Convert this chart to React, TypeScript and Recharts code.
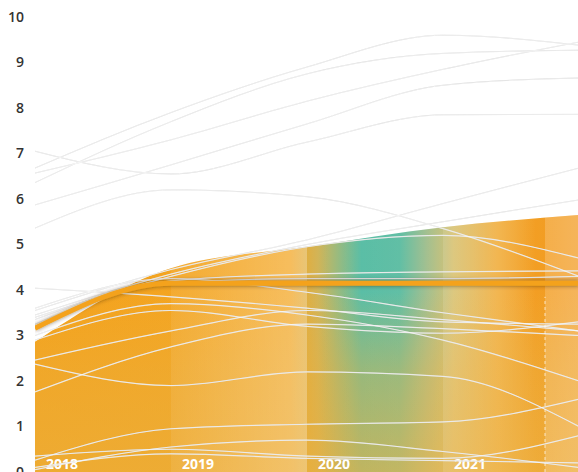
import { ComposedChart, Area, Line, XAxis, YAxis, ReferenceLine, ReferenceArea } from "recharts";

const years = [2018, 2019, 2020, 2021, 2022];
const yTicks = [0, 1, 2, 3, 4, 5, 6, 7, 8, 9, 10];
const yearLabels = [2018, 2019, 2020, 2021];

// filled band and the highlighted trend
const areaValues = [2.86, 4.48, 4.95, 5.38, 5.65];
const trendValues = [3.16, 4.15, 4.15, 4.15, 4.15];

// background spaghetti lines (values per year)
const s1 = [6.68, 7.9, 8.9, 9.6, 9.38];
const s2 = [6.36, 7.7, 8.75, 9.2, 9.27];
const s3 = [6.57, 7.3, 8.15, 8.85, 9.45];
const s4 = [5.87, 6.75, 7.65, 8.5, 8.66];
const s5 = [7.05, 6.55, 7.25, 7.85, 7.86];
const s6 = [5.36, 6.2, 6.05, 5.35, 4.3];
const s7 = [3.55, 4.45, 5.1, 5.9, 6.68];
const s8 = [3.45, 4.35, 5.0, 5.5, 5.98];
const s9 = [3.4, 4.3, 4.95, 5.2, 4.7];
const s10 = [4.04, 3.85, 3.6, 3.3, 3.25];
const s11 = [3.6, 4.25, 3.95, 3.5, 3.1];
const s12 = [3.35, 4.2, 4.35, 4.4, 4.42];
const s13 = [3.25, 4.15, 4.25, 4.25, 4.3];
const s14 = [2.46, 3.1, 3.55, 3.35, 3.1];
const s15 = [2.37, 1.9, 2.2, 2.1, 1.0];
const s16 = [1.76, 2.75, 3.25, 3.15, 3.0];
const s17 = [0.26, 0.95, 1.05, 1.1, 1.6];
const s18 = [0.1, 0.4, 0.3, 0.25, 0.2];
const s19 = [0.35, 0.5, 0.35, 0.3, 0.8];
const s20 = [2.9, 3.55, 3.2, 3.05, 3.3];
const s21 = [3.0, 3.7, 3.45, 2.9, 2.0];
const s22 = [0.05, 0.55, 0.7, 0.45, 0.1];

const series = [s1, s2, s3, s4, s5, s6, s7, s8, s9, s10, s11, s12, s13, s14, s15, s16, s17, s18, s19, s20, s21, s22];

const data = years.map((year, i) => {
  const row: Record<string, number> = { year, area: areaValues[i], trend: trendValues[i] };
  series.forEach((s, k) => {
    row["s" + k] = s[i];
  });
  return row;
});

const YearLabel = (props: any) => {
  const vb = props.viewBox || {};
  return (
    <text
      x={vb.x + 11}
      y={vb.y + vb.height - 3}
      fill="#fff"
      fontSize={14}
      fontWeight={700}
      fontFamily="'Open Sans', sans-serif"
    >
      {props.text}
    </text>
  );
};

export default function App() {
  return (
    <div style={{ position: "fixed", left: 0, top: 0, width: 578, height: 472, overflow: "hidden", background: "#fff" }}>
      <ComposedChart width={579} height={480} data={data} margin={{ top: 17, right: 0, bottom: 8, left: 0 }}>
        <defs>
          <linearGradient id="baseFill" x1="0" y1="0" x2="1" y2="0">
            <stop offset="0%" stopColor="#f4a21c" />
            <stop offset="47%" stopColor="#f3a726" />
            <stop offset="52%" stopColor="#d2b456" />
            <stop offset="56%" stopColor="#92ba80" />
            <stop offset="60%" stopColor="#55bca3" />
            <stop offset="67%" stopColor="#58bba0" />
            <stop offset="72%" stopColor="#9cbb88" />
            <stop offset="77%" stopColor="#d6bd66" />
            <stop offset="85%" stopColor="#f1ae3e" />
            <stop offset="92%" stopColor="#f29a1a" />
            <stop offset="100%" stopColor="#f29c24" />
          </linearGradient>
          <linearGradient id="depthFill" x1="0" y1="0" x2="0" y2="1">
            <stop offset="0%" stopColor="#ebaf3c" stopOpacity={0} />
            <stop offset="30%" stopColor="#ebaf3c" stopOpacity={0} />
            <stop offset="60%" stopColor="#ebaf3c" stopOpacity={0.42} />
            <stop offset="100%" stopColor="#ebaf3c" stopOpacity={0.7} />
          </linearGradient>
          <linearGradient id="bandFill" x1="0" y1="0" x2="1" y2="0">
            <stop offset="0%" stopColor="#fff" stopOpacity={0} />
            <stop offset="25%" stopColor="#fff" stopOpacity={0} />
            <stop offset="25%" stopColor="#fff" stopOpacity={0.07} />
            <stop offset="50%" stopColor="#fff" stopOpacity={0.28} />
            <stop offset="50%" stopColor="#fff" stopOpacity={0} />
            <stop offset="75%" stopColor="#fff" stopOpacity={0.08} />
            <stop offset="75%" stopColor="#fff" stopOpacity={0.18} />
            <stop offset="93.75%" stopColor="#fff" stopOpacity={0.03} />
            <stop offset="93.75%" stopColor="#fff" stopOpacity={0.2} />
            <stop offset="100%" stopColor="#fff" stopOpacity={0.25} />
          </linearGradient>
          <filter id="lineShadow" filterUnits="userSpaceOnUse" x="0" y="0" width="600" height="480">
            <feDropShadow dx="0" dy="0" stdDeviation="2" floodColor="#3a2500" floodOpacity="0.6" />
          </filter>
        </defs>

        <XAxis dataKey="year" type="number" domain={[2018, 2022]} hide allowDataOverflow />
        <YAxis
          domain={[0, 10]}
          ticks={yTicks}
          interval={0}
          width={35}
          axisLine={false}
          tickLine={false}
          tickSize={0}
          tickMargin={11}
          tick={{ fill: "#333", fontSize: 14, fontWeight: 600, fontFamily: "'Open Sans', sans-serif" }}
        />

        {series.map((_, k) => (
          <Line
            key={"g" + k}
            type="monotone"
            dataKey={"s" + k}
            stroke="#d2d2d2"
            strokeWidth={1}
            dot={false}
            activeDot={false}
            isAnimationActive={false}
          />
        ))}

        <Area type="monotone" dataKey="area" stroke="none" fill="url(#baseFill)" fillOpacity={1} isAnimationActive={false} />
        <Area type="monotone" dataKey="area" stroke="none" fill="url(#depthFill)" fillOpacity={1} isAnimationActive={false} />
        <Area type="monotone" dataKey="area" stroke="none" fill="url(#bandFill)" fillOpacity={1} isAnimationActive={false} />

        <ReferenceLine
          segment={[{ x: 2021.75, y: 0 }, { x: 2021.75, y: 3.85 }]}
          stroke="#fff"
          strokeOpacity={0.7}
          strokeDasharray="3 3"
        />

        {series.map((_, k) => (
          <Line
            key={"w" + k}
            type="monotone"
            dataKey={"s" + k}
            stroke="#fff"
            strokeOpacity={0.55}
            strokeWidth={1.2}
            dot={false}
            activeDot={false}
            isAnimationActive={false}
          />
        ))}

        <Line
          type="monotone"
          dataKey="trend"
          stroke="#f4a21c"
          strokeWidth={5}
          filter="url(#lineShadow)"
          dot={false}
          activeDot={false}
          isAnimationActive={false}
        />

        {yearLabels.map((y) => (
          <ReferenceArea
            key={"lbl" + y}
            x1={y}
            x2={y + 1}
            y1={0}
            y2={1}
            fill="none"
            fillOpacity={0}
            stroke="none"
            label={<YearLabel text={String(y)} />}
          />
        ))}
      </ComposedChart>
    </div>
  );
}
